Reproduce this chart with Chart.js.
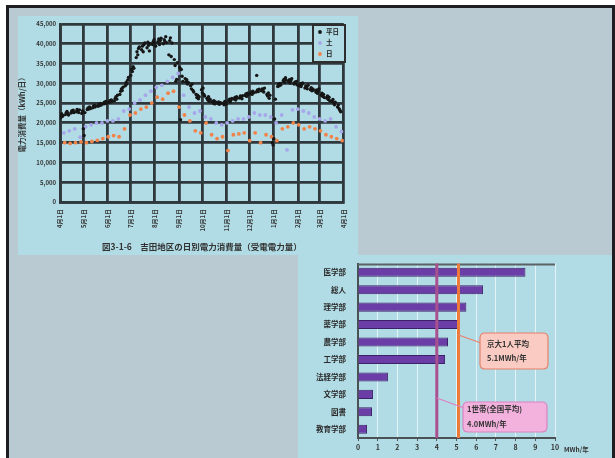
<!DOCTYPE html>
<html><head><meta charset="utf-8">
<script src="https://cdn.jsdelivr.net/npm/chart.js@4"></script>
<style>
html,body{margin:0;padding:0;width:615px;height:458px;overflow:hidden;background:#fff;}
#frame{position:absolute;left:6px;top:5px;width:609px;height:470px;box-sizing:border-box;border:3px solid #1e1e22;background:#b9cad3;}
#p1{position:absolute;left:18px;top:16px;width:340px;height:239px;background:#b2dce5;}
#p2{position:absolute;left:298px;top:255px;width:314px;height:203px;background:#b2dce5;}
canvas{display:block;filter:blur(0.45px);}
</style></head>
<body>
<div id="frame"></div>
<div id="p1"><canvas id="c1" width="340" height="239"></canvas></div>
<div id="p2"><canvas id="c2" width="314" height="203"></canvas></div>
<script>
const FONT = "'Noto Sans CJK JP','Noto Sans',sans-serif";

// ---- Top chart data (daily consumption, kWh/day) ----
const monthStartDays = [0,30,61,91,122,153,183,214,244,275,306,334,365];
const monthLabels = ['4月1日','5月1日','6月1日','7月1日','8月1日','9月1日','10月1日','11月1日','12月1日','1月1日','2月1日','3月1日','4月1日'];
const yTickValues = [0,5000,10000,15000,20000,25000,30000,35000,40000,45000];
const seriesNames = ['平日','土','日'];
// weekdays, Mon-Fri per week (52 weeks)
const weekdayKWh = [
 [21200,21800,22300,21600,21900],[22100,22600,22900,22400,22000],[22500,23000,22700,23200,22600],
 [22800,23400,23100,22600,23300],[22400,23000,18500,16800,22600],[23400,23800,23500,24000,23600],
 [23800,24200,24500,24000,24300],[24200,24700,24400,24900,24500],[24800,25200,24900,25400,25000],
 [25200,25600,25300,25800,25500],[25600,26200,26600,26000,27000],[27200,28000,28600,28200,29000],
 [29400,30200,29800,30800,31500],[32000,33500,33000,34200,33800],[36500,38000,37200,38800,39200],
 [38500,39400,38000,39800,40200],[39000,40400,39600,38200,40000],[39800,40600,41000,40200,39400],
 [40500,41200,39800,40800,41400],[40000,41000,40600,41800,40300],[37200,40800,41500,36800,40200],
 [36000,34500,30500,31000,35200],[34000,20800,33500,31800,30500],[31200,30400,30900,29800,30200],
 [29400,28600,29800,28200,27800],[27200,26400,27000,26100,26600],[28400,27600,28800,27200,26800],
 [26200,25800,26600,25400,26000],[25400,25000,25600,24800,25300],[24900,25300,24700,25100,25000],
 [25000,24600,25400,25200,24800],[25600,26000,25300,25800,26200],[26000,26400,25800,26600,26300],
 [26300,26800,26500,26100,26900],[26900,27300,26700,27500,27100],[27400,27800,27200,28000,27600],
 [27800,32000,28300,27900,28500],[28100,28600,28300,27800,28800],[27200,26800,27600,26200,27000],
 [15000,14400,16000,21000,26000],[29200,29800,29400,30000,29600],[30600,31000,30200,31400,30800],
 [30400,30900,30100,30700,31200],[29800,30300,30000,30500,29600],[29400,29900,29200,29700,30100],
 [28800,29300,29000,28600,29500],[28400,28900,28100,28600,28300],[27800,28300,27500,28000,28600],
 [27000,27500,26700,27200,26400],[26300,26800,25900,26500,25600],[25400,25900,25000,24600,25200],
 [24000,24500,23600,23200,22800]
];
const saturdayKWh = [17500,18000,18500,16400,19000,19500,20000,20000,20500,20500,21000,23000,23500,25000,25800,27000,28000,29000,29500,30500,31500,32500,27000,24000,22500,23000,21500,21000,20000,19500,20000,20500,21000,21000,21500,22500,22000,22000,21500,20000,22000,13200,23300,23500,23000,22500,21500,21000,20500,21000,19000,17800];
const sundayKWh = [15000,14800,15000,15200,15000,15300,15600,16000,16500,16800,16500,18500,22000,22500,23500,24000,25000,26500,26000,27500,28000,24000,22000,20500,18000,17500,20000,17000,16000,16500,13000,17000,17200,17500,15500,17500,15000,17000,16500,15500,18500,19000,20000,19500,18500,19000,18500,18000,17000,16500,16000,15500];

// ---- Bottom chart data (MWh/year per person) ----
const barCategories = ['医学部','総人','理学部','薬学部','農学部','工学部','法経学部','文学部','図書','教育学部'];
const barValues = [8.5,6.35,5.5,5.15,4.57,4.42,1.52,0.76,0.71,0.46];
const kyotoAvg = 5.1;
const householdAvg = 4.0;
const kyotoNote = ['京大1人平均','5.1MWh/年'];
const householdNote = ['1世帯(全国平均)','4.0MWh/年'];
const barUnit = 'MWh/年';

// build points
const wdPts = [], satPts = [], sunPts = [];
weekdayKWh.forEach((wk,w)=>wk.forEach((v,i)=>wdPts.push({x:w*7+i,y:v})));
saturdayKWh.forEach((v,w)=>satPts.push({x:w*7+5,y:v}));
sundayKWh.forEach((v,w)=>sunPts.push({x:w*7+6,y:v}));

const legendPlugin = {
  id:'boxLegend',
  afterDraw(chart){
    const ctx = chart.ctx;
    ctx.save();
    ctx.fillStyle = '#b2dce5';
    ctx.strokeStyle = '#2e2e2e';
    ctx.lineWidth = 2;
    ctx.fillRect(295,9,32,37);
    ctx.strokeRect(295,9,32,37);
    const rows = [16,27,38];
    chart.data.datasets.forEach((ds,i)=>{
      ctx.fillStyle = ds.backgroundColor;
      ctx.beginPath(); ctx.arc(302,rows[i],1.9,0,Math.PI*2); ctx.fill();
      ctx.fillStyle = '#222';
      ctx.font = 'bold 6.5px '+FONT;
      ctx.textBaseline = 'middle';
      ctx.fillText(ds.label,308,rows[i]);
    });
    ctx.restore();
  }
};

new Chart(document.getElementById('c1'),{
  type:'scatter',
  data:{datasets:[
    {label:seriesNames[0],data:wdPts,backgroundColor:'#161616',borderColor:'#161616',pointRadius:1.7,borderWidth:0},
    {label:seriesNames[1],data:satPts,backgroundColor:'#a6a6ea',borderColor:'#a6a6ea',pointRadius:1.9,borderWidth:0},
    {label:seriesNames[2],data:sunPts,backgroundColor:'#f0834a',borderColor:'#f0834a',pointRadius:1.9,borderWidth:0}
  ]},
  options:{
    animation:false,responsive:false,
    layout:{padding:{top:8,right:8,left:0,bottom:0}},
    plugins:{legend:{display:false},tooltip:{enabled:false}},
    scales:{
      x:{type:'linear',min:0,max:365,
        afterBuildTicks:s=>{s.ticks=monthStartDays.map(v=>({value:v}));},
        afterFit:s=>{s.height=53;},
        ticks:{callback:(v,i)=>monthLabels[i],minRotation:90,maxRotation:90,autoSkip:false,padding:7,font:{size:6,family:FONT,weight:'bold'},color:'#333'},
        grid:{color:'#2f383c',lineWidth:2.8,drawTicks:false},
        border:{color:'#2f383c',width:2.8},
        title:{display:true,text:'図3-1-6　吉田地区の日別電力消費量（受電電力量）',font:{size:8.5,family:FONT,weight:'bold'},color:'#333',padding:{top:0,bottom:3}}
      },
      y:{min:0,max:45000,
        afterBuildTicks:s=>{s.ticks=yTickValues.map(v=>({value:v}));},
        afterFit:s=>{s.width=42;},
        ticks:{callback:v=>v.toLocaleString('en-US'),font:{size:6,family:FONT,weight:'bold'},color:'#333',padding:4},
        grid:{color:'#2f383c',lineWidth:2.8,drawTicks:false},
        border:{color:'#2f383c',width:2.8},
        title:{display:true,text:'電力消費量（kWh/日）',font:{size:7.5,family:FONT,weight:'bold'},color:'#333',padding:{top:0,bottom:2}}
      }
    }
  },
  plugins:[legendPlugin]
});

function roundRect(ctx,x,y,w,h,r){
  ctx.beginPath();
  ctx.moveTo(x+r,y);ctx.lineTo(x+w-r,y);ctx.quadraticCurveTo(x+w,y,x+w,y+r);
  ctx.lineTo(x+w,y+h-r);ctx.quadraticCurveTo(x+w,y+h,x+w-r,y+h);
  ctx.lineTo(x+r,y+h);ctx.quadraticCurveTo(x,y+h,x,y+h-r);
  ctx.lineTo(x,y+r);ctx.quadraticCurveTo(x,y,x+r,y);ctx.closePath();
}

const refPlugin = {
  id:'refLines',
  afterDatasetsDraw(chart){
    const ctx = chart.ctx, xs = chart.scales.x, a = chart.chartArea;
    ctx.save();
    // top border
    ctx.strokeStyle = '#5a6266'; ctx.lineWidth = 2;
    ctx.beginPath(); ctx.moveTo(a.left,a.top+1); ctx.lineTo(a.right,a.top+1); ctx.stroke();
    const xh = xs.getPixelForValue(householdAvg), xk = xs.getPixelForValue(kyotoAvg);
    ctx.lineWidth = 3;
    ctx.strokeStyle = '#a9508f';
    ctx.beginPath(); ctx.moveTo(xh,a.top); ctx.lineTo(xh,a.bottom); ctx.stroke();
    ctx.strokeStyle = '#ee7a3a';
    ctx.beginPath(); ctx.moveTo(xk,a.top); ctx.lineTo(xk,a.bottom); ctx.stroke();
    // pointers
    ctx.lineWidth = 1.2;
    ctx.strokeStyle = '#e8806a';
    ctx.beginPath(); ctx.moveTo(xk,80); ctx.lineTo(183,88); ctx.stroke();
    ctx.strokeStyle = '#e07cc4';
    ctx.beginPath(); ctx.moveTo(xh,143); ctx.lineTo(166,153); ctx.stroke();
    // boxes
    ctx.lineWidth = 1.2;
    roundRect(ctx,182,78,68,36,5);
    ctx.fillStyle = '#f9cbc2'; ctx.fill(); ctx.strokeStyle = '#e8806a'; ctx.stroke();
    roundRect(ctx,165,147,84,30,5);
    ctx.fillStyle = '#f3b2dd'; ctx.fill(); ctx.strokeStyle = '#d784c2'; ctx.stroke();
    ctx.fillStyle = '#333'; ctx.font = 'bold 7.5px '+FONT; ctx.textBaseline = 'middle';
    ctx.fillText(kyotoNote[0],189,89); ctx.fillText(kyotoNote[1],189,103);
    ctx.fillText(householdNote[0],169,154); ctx.fillText(householdNote[1],169,169);
    // unit
    ctx.font = 'bold 6.5px '+FONT;
    ctx.fillText(barUnit, xs.right+9, a.bottom+12);
    ctx.restore();
  }
};

new Chart(document.getElementById('c2'),{
  type:'bar',
  data:{labels:barCategories,datasets:[{data:barValues,backgroundColor:'#6a3ea6',borderColor:'#3b2266',borderWidth:1,categoryPercentage:1,barPercentage:0.52}]},
  options:{
    indexAxis:'y',animation:false,responsive:false,
    layout:{padding:{top:5,right:57,left:0,bottom:0}},
    plugins:{legend:{display:false},tooltip:{enabled:false}},
    scales:{
      x:{min:0,max:10,afterFit:s=>{s.height=20;},
        ticks:{stepSize:1,font:{size:7,family:FONT,weight:'bold'},color:'#333',padding:2},
        grid:{color:'rgba(235,248,250,0.85)',lineWidth:1,tickLength:3,tickColor:'#555'},
        border:{color:'#4a5256',width:2}},
      y:{afterFit:s=>{s.width=60;},
        ticks:{font:{size:7.5,family:FONT,weight:'bold'},color:'#2a2a2a',padding:4},
        grid:{display:false},
        border:{color:'#4a5256',width:2}}
    }
  },
  plugins:[refPlugin]
});
</script>
</body></html>
